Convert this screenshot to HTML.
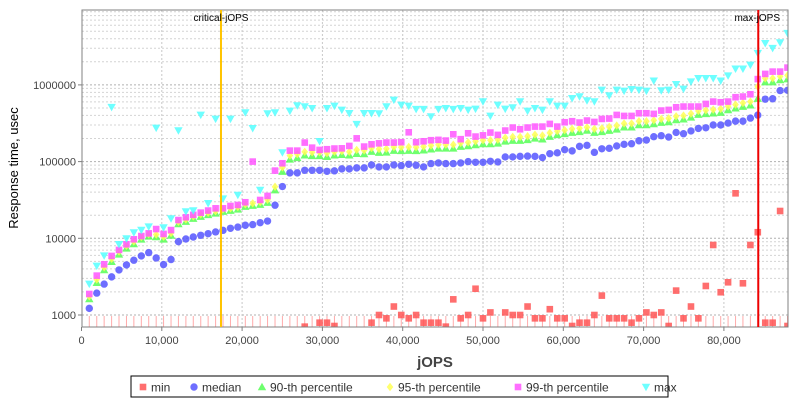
<!DOCTYPE html>
<html><head><meta charset="utf-8"><style>
html,body{margin:0;padding:0;background:#fff;}
svg{display:block;font-family:"Liberation Sans","DejaVu Sans",sans-serif;}
</style></head><body>
<svg id="chart" width="800" height="400" viewBox="0 0 800 400" xmlns="http://www.w3.org/2000/svg">
<defs><clipPath id="plotclip"><rect x="82" y="10" width="706" height="317"/></clipPath></defs>
<rect x="0" y="0" width="800" height="400" fill="#fff"/>
<g id="grid"></g>
<g id="series" clip-path="url(#plotclip)"></g>
<rect x="82" y="10" width="706" height="317" fill="none" stroke="#808080" stroke-width="1"/>
<g id="axes"></g>
<text x="18" y="168" transform="rotate(-90 18 168)" text-anchor="middle" font-size="13" fill="#000">Response time, usec</text>
<text x="435" y="367" text-anchor="middle" font-size="15" font-weight="bold" fill="#444">jOPS</text>
<g id="legend">
<rect x="131" y="376" width="537" height="21" fill="#fff" stroke="#000" stroke-width="1"/>
</g>
</svg>
<script>
const jops=[970,1900,2820,3750,4670,5600,6520,7450,8370,9300,10220,11150,12070,13000,13920,14850,15770,16700,17620,18550,19470,20400,21320,22250,23170,24100,25020,25950,26870,27800,28720,29650,30570,31500,32420,33350,34270,35200,36120,37050,37970,38900,39820,40750,41670,42600,43520,44450,45370,46300,47220,48150,49070,50000,50920,51850,52770,53700,54620,55550,56470,57400,58320,59250,60170,61100,62020,62950,63870,64800,65720,66650,67570,68500,69420,70350,71270,72200,73120,74050,74970,75900,76820,77750,78670,79600,80520,81450,82370,83300,84220,85150,86070,87000,87920];
const minVals=[500,500,500,500,500,500,500,500,500,500,500,500,500,500,500,500,500,500,500,500,500,500,500,500,500,500,500,500,500,705,500,794,794,719,500,500,500,500,794,1000,905,1290,1000,905,1000,794,794,794,705,1600,905,1000,2200,905,1080,500,1080,1000,1000,1290,905,905,1190,905,905,719,794,794,1000,1790,905,905,905,794,905,1080,1000,1080,719,2080,905,1290,905,2390,8180,1980,2670,38600,2590,8180,12000,794,794,22700,719];
const medianVals=[1220,1930,2530,3140,3870,4500,5180,5890,6510,5540,4550,5290,9050,9790,10400,10950,11500,12100,12700,13500,14000,14800,15100,16000,16800,27000,47300,71300,71300,77100,77100,77100,74800,75800,80400,80400,82800,82800,90600,85300,85300,90600,88700,92300,89700,85300,94200,96200,94200,94200,96200,100000,98000,98000,101000,99000,115000,115000,117000,118000,117000,113000,127000,130000,143000,138000,158000,163000,132000,147000,149000,160000,168000,171000,187000,191000,211000,218000,209000,240000,231000,251000,271000,276000,300000,300000,318000,337000,337000,369000,404000,652000,660000,843000,850000];
const p90Vals=[1620,2640,3860,4960,6190,7410,8430,9710,10600,10400,9710,10900,15400,16500,18100,19200,20200,21200,22300,23000,23900,25900,26700,27500,29200,42600,74100,107000,112000,121000,119000,119000,116000,121000,123000,121000,127000,126000,135000,131000,132000,139000,138000,139000,138000,141000,145000,149000,149000,149000,157000,160000,165000,170000,170000,173000,184000,188000,188000,192000,201000,196000,212000,223000,230000,239000,244000,255000,239000,244000,254000,264000,281000,281000,301000,301000,310000,323000,329000,349000,357000,378000,410000,419000,427000,436000,472000,496000,522000,543000,664000,1090000,1090000,1160000,1190000];
const p95Vals=[1750,2900,4200,5400,6700,8000,9100,10400,11300,11200,10500,11700,16400,17600,19300,20500,21500,22600,23800,24600,25600,27700,28600,29600,31800,47000,84000,120000,125000,134000,132000,132000,129000,134000,137000,134000,142000,140000,150000,146000,147000,155000,154000,155000,154000,157000,162000,166000,166000,166000,175000,178000,184000,190000,190000,193000,205000,210000,210000,214000,224000,219000,237000,249000,257000,267000,272000,280000,267000,272000,284000,295000,314000,314000,336000,336000,346000,360000,367000,390000,398000,422000,457000,467000,476000,486000,526000,553000,582000,606000,950000,1220000,1220000,1290000,1330000];
const p99Vals=[1880,3260,4580,5890,7050,8350,9710,10700,11600,13200,11400,12800,17300,18800,20200,21600,23000,24600,24600,26400,27200,29500,100000,31600,35700,76300,95100,139000,139000,177000,152000,142000,145000,148000,149000,160000,201000,157000,168000,173000,177000,177000,179000,241000,179000,184000,190000,192000,188000,227000,196000,234000,212000,220000,239000,223000,254000,278000,264000,278000,286000,286000,310000,286000,326000,336000,323000,343000,329000,360000,364000,406000,394000,394000,427000,427000,419000,463000,472000,511000,522000,522000,522000,565000,606000,594000,606000,691000,705000,755000,1190000,1390000,1490000,1490000,1680000];
const maxVals=[2540,4360,5940,512000,8350,9910,11900,12800,14200,275000,13800,18100,254000,22300,23000,406000,28600,360000,32900,360000,36700,436000,272000,42600,423000,436000,131000,458000,537000,522000,496000,184000,496000,532000,472000,427000,307000,427000,427000,423000,522000,637000,548000,532000,482000,482000,386000,482000,496000,482000,496000,472000,486000,606000,394000,548000,486000,506000,606000,458000,496000,472000,606000,532000,532000,670000,705000,625000,606000,861000,726000,861000,835000,877000,861000,835000,1130000,843000,861000,1020000,887000,1100000,1220000,1220000,1220000,1130000,1320000,1620000,1620000,1820000,2590000,3490000,3010000,3560000,4720000];
const xTicks=[0,10000,20000,30000,40000,50000,60000,70000,80000];
const xTickLabels=["0","10,000","20,000","30,000","40,000","50,000","60,000","70,000","80,000"];
const yTicks=[1000,10000,100000,1000000];
const yTickLabels=["1000","10000","100000","1000000"];
const criticalJops=17370;
const maxJops=84280;

const NS="http://www.w3.org/2000/svg";
function xs(v){return 81.5+v*0.00803;}
function ys(v){return 315-(Math.log10(v)-3)*76.7;}
function mk(tag,attrs,parent){const e=document.createElementNS(NS,tag);for(const k in attrs)e.setAttribute(k,attrs[k]);parent.appendChild(e);return e;}
const grid=document.getElementById('grid');
const axes=document.getElementById('axes');
const ser=document.getElementById('series');
const leg=document.getElementById('legend');

for(let d=1000;d<=1e7;d*=10){for(let m=1;m<=9;m++){const v=d*m;const y=ys(v);if(y<10||y>327)continue;
 const l=mk('line',{x1:82,x2:788,y1:y,y2:y,stroke:m===1?'#b0b0b0':'#d4d4d4','stroke-width':1,'stroke-dasharray':'2,2'},grid);
 
 }}
xTicks.forEach((t,i)=>{const x=xs(t);
 if(i>0){const l=mk('line',{x1:x,x2:x,y1:10,y2:327,stroke:'#c8c8c8','stroke-width':1,'stroke-dasharray':'2,2'},grid);
 
 }
 const tk=mk('line',{x1:x,x2:x,y1:327,y2:331,stroke:'#808080'},axes);
 
 
 const tx=mk('text',{x:x,y:344,'text-anchor':'middle','font-size':11,fill:'#444'},axes);tx.textContent=xTickLabels[i];
 
 });
yTicks.forEach((t,i)=>{const y=ys(t);
 const tk=mk('line',{x1:78,x2:82,y1:y,y2:y,stroke:'#808080'},axes);
 
 
 const tx=mk('text',{x:76,y:y+4,'text-anchor':'end','font-size':11,fill:'#444'},axes);tx.textContent=yTickLabels[i];
 
 });

function marker(type,x,y,color,parent){let e;
 if(type==='sq'){e=mk('rect',{x:x-3.3,y:y-3.3,width:6.6,height:6.6,fill:color,'fill-opacity':0.85},parent);}
 else if(type==='circ'){e=mk('circle',{cx:x,cy:y,r:3.7,fill:color,'fill-opacity':0.85},parent);}
 else if(type==='up'){e=mk('polygon',{points:`${x},${y-4.2} ${x+4.2},${y+3.3} ${x-4.2},${y+3.3}`,fill:color,'fill-opacity':0.85},parent);}
 else if(type==='dia'){e=mk('polygon',{points:`${x},${y-4.2} ${x+3.3},${y} ${x},${y+4.2} ${x-3.3},${y}`,fill:color,'fill-opacity':0.85},parent);}
 else {e=mk('polygon',{points:`${x-4.2},${y-3.3} ${x+4.2},${y-3.3} ${x},${y+4.2}`,fill:color,'fill-opacity':0.85},parent);}
 return e;}
const series=[
 {name:'min',vals:minVals,type:'sq',color:'#ff5555'},
 {name:'median',vals:medianVals,type:'circ',color:'#5555ff'},
 {name:'p90',vals:p90Vals,type:'up',color:'#55ff55'},
 {name:'p95',vals:p95Vals,type:'dia',color:'#ffff55'},
 {name:'p99',vals:p99Vals,type:'sq',color:'#ff55ff'},
 {name:'max',vals:maxVals,type:'down',color:'#55ffff'}];
jops.forEach((j,i)=>{const x=xs(j);const y=Math.max(ys(minVals[i]),316);
 const l=mk('line',{x1:x,x2:x,y1:Math.min(y,316),y2:327,stroke:'#ffaaaa','stroke-width':1},ser);
 
 });
series.forEach(s=>{const g=mk('g',{},ser);
 
 
 s.vals.forEach((v,i)=>{const m=marker(s.type,xs(jops[i]),ys(v),s.color,g);
  
  });});

const cx=xs(criticalJops);
const cl=mk('line',{x1:cx,x2:cx,y1:10,y2:327,stroke:'#ffc400','stroke-width':2},axes);


const ct=mk('text',{x:cx,y:21,'text-anchor':'middle','font-size':10,fill:'#000'},axes);ct.textContent='critical-jOPS';


const mx=xs(maxJops);
const ml=mk('line',{x1:mx,x2:mx,y1:10,y2:327,stroke:'#ee0000','stroke-width':2},axes);


const mt=mk('text',{x:780,y:21,'text-anchor':'end','font-size':10,fill:'#000'},axes);mt.textContent='max-jOPS';



const legItems=[['min','sq','#ff5555',139],['median','circ','#5555ff',190],['90-th percentile','up','#55ff55',258],['95-th percentile','dia','#ffff55',386],['99-th percentile','sq','#ff55ff',514],['max','down','#55ffff',642]];
legItems.forEach(it=>{const g=mk('g',{},leg);
 
 
 marker(it[1],it[3]+4,387,it[2],g);
 const t=mk('text',{x:it[3]+12,y:391.5,'font-size':12,fill:'#333'},g);t.textContent=it[0];});
</script>
</body></html>
